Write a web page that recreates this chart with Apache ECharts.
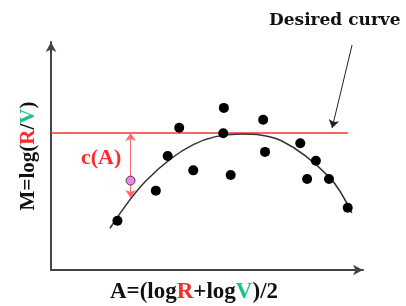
<!DOCTYPE html>
<html>
<head>
<meta charset="UTF-8">
<title>Desired curve</title>
<script src="https://cdn.jsdelivr.net/npm/echarts@6/dist/echarts.min.js"></script>
<style>
  html, body { margin: 0; padding: 0; background: #fff; }
  #chart { width: 406px; height: 306px; }
</style>
</head>
<body>
<div id="chart"></div>
<script type="text/javascript">
// observed points (A, M)
var dotA = [2.13, 3.36, 3.74, 4.11, 4.56, 5.54, 5.52, 5.76, 6.80, 6.86, 7.99, 8.49, 8.21, 8.91, 9.51];
var dotM = [2.16, 3.48, 5.00, 6.24, 4.37, 7.11, 6.00, 4.17, 6.59, 5.18, 5.56, 4.79, 3.99, 3.99, 2.73];
// the fitted curve
var curveA = [1.89, 3.07, 4.56, 6.06, 7.40, 8.94, 9.64];
var curveM = [1.83, 3.95, 5.50, 5.96, 5.66, 4.04, 2.50];
// desired level (red line)
var desiredA = [0, 9.52];
var desiredM = [6.01, 6.01];
// point to correct and its c(A) arrow
var pinkA = [2.55];
var pinkM = [3.92];
var cArrowA = [2.55, 2.55];
var cArrowM = [6.01, 3.16];
// pointer to the desired curve
var noteArrowA = [9.65, 9.01];
var noteArrowM = [9.87, 6.23];

function pairs(xs, ys) {
    return xs.map(function (x, i) { return [x, ys[i]]; });
}

var serif = '"Liberation Serif", "DejaVu Serif", serif';
var chart = echarts.init(document.getElementById('chart'));
var option = {
    animation: false,
    grid: { left: 51, right: 43, top: 42, bottom: 36, outerBoundsMode: 'none', containLabel: false },
    xAxis: {
        type: 'value', min: 0, max: 10,
        axisLine: { show: true, symbol: ['none', 'arrow'], symbolSize: [8, 10], lineStyle: { color: '#444', width: 2 } },
        axisTick: { show: false }, axisLabel: { show: false }, splitLine: { show: false },
        name: 'A=(log{r|R}+log{g|V})/2',
        nameLocation: 'middle',
        nameGap: 11,
        nameTextStyle: {
            fontFamily: serif, fontWeight: 'bold', fontSize: 23, color: '#111',
            padding: [0, 26, 0, 0],
            rich: {
                r: { color: '#ff2a2a', fontFamily: serif, fontWeight: 'bold', fontSize: 23 },
                g: { color: '#1fc08c', fontFamily: serif, fontWeight: 'bold', fontSize: 23 }
            }
        }
    },
    yAxis: {
        type: 'value', min: 0, max: 10,
        axisLine: { show: true, symbol: ['none', 'arrow'], symbolSize: [8, 10], lineStyle: { color: '#444', width: 2 } },
        axisTick: { show: false }, axisLabel: { show: false }, splitLine: { show: false },
        name: 'M=log({r|R}/{g|V})',
        nameLocation: 'middle',
        nameGap: 12,
        nameTextStyle: {
            fontFamily: serif, fontWeight: 'bold', fontSize: 21, color: '#111',
            rich: {
                r: { color: '#ff2a2a', fontFamily: serif, fontWeight: 'bold', fontSize: 21 },
                g: { color: '#1fc08c', fontFamily: serif, fontWeight: 'bold', fontSize: 21 }
            }
        }
    },
    graphic: [
        { type: 'text', left: 269, top: 12,
          style: { text: 'Desired curve', font: 'bold 17px "DejaVu Serif", serif', fill: '#111' } },
        { type: 'text', left: 81, top: 147,
          style: { text: 'c(A)', font: 'bold 22px ' + serif, fill: '#ff2a2a' } }
    ],
    series: [
        {
            type: 'line', data: pairs(desiredA, desiredM), showSymbol: false,
            lineStyle: { color: '#ff3030', width: 1.5 }, z: 2
        },
        {
            type: 'line', data: pairs(curveA, curveM), smooth: 0.35, showSymbol: false,
            lineStyle: { color: '#333', width: 1.5 }, z: 3
        },
        {
            type: 'lines', coordinateSystem: 'cartesian2d',
            data: [{ coords: pairs(cArrowA, cArrowM) }],
            symbol: ['arrow', 'arrow'], symbolSize: 8,
            lineStyle: { color: '#ff6b6b', width: 1, opacity: 1 }, z: 4
        },
        {
            type: 'lines', coordinateSystem: 'cartesian2d',
            data: [{ coords: pairs(noteArrowA, noteArrowM) }],
            symbol: ['none', 'arrow'], symbolSize: 8,
            lineStyle: { color: '#222', width: 1, opacity: 1 }, z: 4
        },
        {
            type: 'scatter', data: pairs(dotA, dotM), symbolSize: 10,
            itemStyle: { color: '#000', opacity: 1 }, z: 5
        },
        {
            type: 'scatter', data: pairs(pinkA, pinkM), symbolSize: 9,
            itemStyle: { color: '#ee82ee', borderColor: '#444', borderWidth: 1, opacity: 1 }, z: 6
        }
    ]
};
chart.setOption(option);
</script>
</body>
</html>
